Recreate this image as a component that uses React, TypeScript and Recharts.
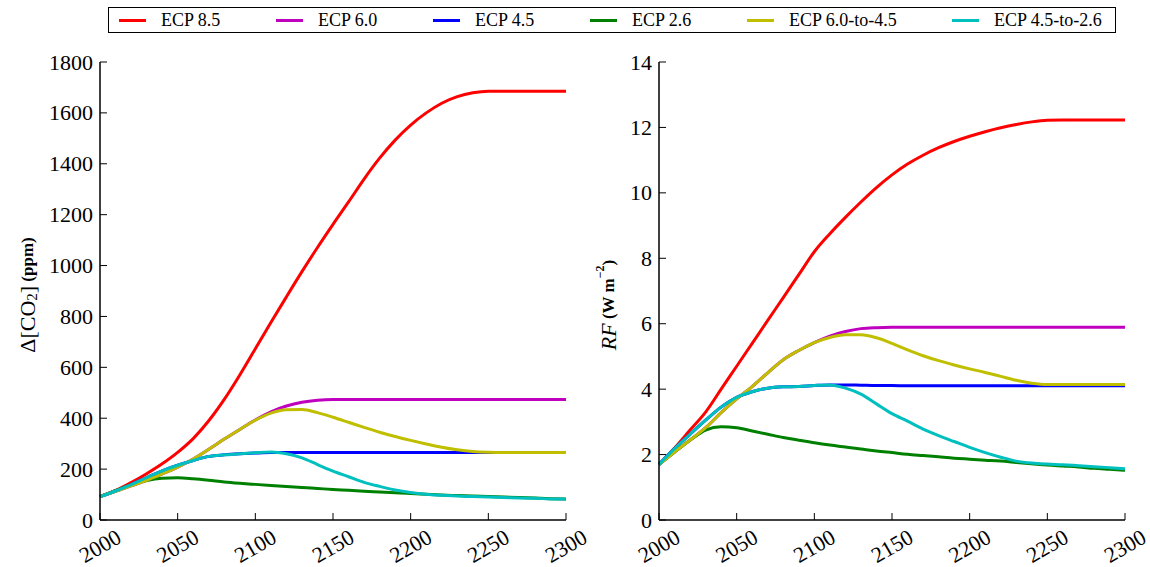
import { LineChart, Line, XAxis, YAxis } from 'recharts'

const years = [
  2000, 2010, 2020, 2030, 2040, 2050, 2060, 2070, 2080, 2090, 2100,
  2110, 2120, 2130, 2140, 2150, 2160, 2170, 2180, 2190, 2200,
  2210, 2220, 2230, 2240, 2250, 2260, 2270, 2280, 2290, 2300,
]

// Delta CO2 (ppm)
const co2Ecp85 = [
  92, 116, 147, 182, 221, 266, 320, 390, 474, 570, 673,
  776, 877, 976, 1071, 1162, 1250, 1340, 1422, 1493, 1552,
  1600, 1638, 1664, 1679, 1685, 1685, 1685, 1685, 1685, 1685,
]
const co2Ecp60 = [
  92, 113, 134, 156, 181, 208, 240, 278, 318, 356, 393,
  425, 448, 463, 471, 474, 474, 474, 474, 474, 474,
  474, 474, 474, 474, 474, 474, 474, 474, 474, 474,
]
const co2Ecp45 = [
  92, 114, 139, 167, 193, 215, 234, 250, 256, 260, 263,
  265, 265, 265, 265, 265, 265, 265, 265, 265, 265,
  265, 265, 265, 265, 265, 265, 265, 265, 265, 265,
]
const co2Ecp26 = [
  92, 115, 138, 155, 164, 166, 162, 156, 149, 144, 140,
  136, 132, 128, 124, 120, 117, 113, 110, 107, 104,
  101, 98, 96, 94, 92, 90, 88, 86, 84, 82,
]
const co2Ecp60to45 = [
  92, 113, 134, 156, 181, 208, 240, 278, 318, 356, 392,
  420, 433, 434, 422, 404, 384, 364, 345, 328, 313,
  299, 286, 276, 269, 266, 265, 265, 265, 265, 265,
]
const co2Ecp45to26 = [
  92, 114, 139, 167, 193, 215, 234, 250, 256, 260, 264,
  267, 260, 244, 218, 192, 170, 148, 132, 118, 108,
  101, 97, 94, 92, 90, 88, 86, 85, 83, 82,
]

// radiative forcing (W m-2)
const rfEcp85 = [
  1.7, 2.2, 2.75, 3.3, 4.0, 4.7, 5.4, 6.1, 6.8, 7.5, 8.2,
  8.75, 9.25, 9.72, 10.16, 10.55, 10.88, 11.15, 11.38, 11.57, 11.73,
  11.87, 11.99, 12.09, 12.17, 12.22, 12.23, 12.23, 12.23, 12.23, 12.23,
]
const rfEcp60 = [
  1.7, 2.08, 2.44, 2.82, 3.28, 3.7, 4.08, 4.5, 4.9, 5.18, 5.42,
  5.62, 5.76, 5.85, 5.88, 5.89, 5.89, 5.89, 5.89, 5.89, 5.89,
  5.89, 5.89, 5.89, 5.89, 5.89, 5.89, 5.89, 5.89, 5.89, 5.89,
]
const rfEcp45 = [
  1.7, 2.18, 2.62, 3.05, 3.45, 3.75, 3.92, 4.03, 4.07, 4.08, 4.11,
  4.13, 4.13, 4.12, 4.11, 4.11, 4.1, 4.1, 4.1, 4.1, 4.1,
  4.1, 4.1, 4.1, 4.1, 4.1, 4.1, 4.1, 4.1, 4.1, 4.1,
]
const rfEcp26 = [
  1.7, 2.08, 2.44, 2.75, 2.85, 2.82, 2.72, 2.62, 2.52, 2.44, 2.36,
  2.29, 2.23, 2.17, 2.11, 2.06, 2.01, 1.97, 1.93, 1.89, 1.86,
  1.83, 1.8, 1.76, 1.72, 1.68, 1.65, 1.62, 1.58, 1.55, 1.52,
]
const rfEcp60to45 = [
  1.7, 2.08, 2.44, 2.82, 3.28, 3.7, 4.08, 4.5, 4.9, 5.18, 5.42,
  5.58, 5.66, 5.66, 5.57, 5.4, 5.2, 5.02, 4.87, 4.74, 4.62,
  4.51, 4.39, 4.27, 4.18, 4.14, 4.14, 4.14, 4.14, 4.14, 4.14,
]
const rfEcp45to26 = [
  1.7, 2.18, 2.62, 3.05, 3.45, 3.75, 3.92, 4.03, 4.07, 4.08, 4.11,
  4.13, 4.03, 3.85, 3.55, 3.25, 3.02, 2.78, 2.58, 2.4, 2.22,
  2.06, 1.92, 1.8, 1.74, 1.71, 1.69, 1.66, 1.63, 1.6, 1.57,
]

const xTicks = [2000, 2050, 2100, 2150, 2200, 2250, 2300]
const co2Ticks = [0, 200, 400, 600, 800, 1000, 1200, 1400, 1600, 1800]
const rfTicks = [0, 2, 4, 6, 8, 10, 12, 14]

const series = [
  { key: 'e85', name: 'ECP 8.5', color: '#ff0000' },
  { key: 'e60', name: 'ECP 6.0', color: '#bf00bf' },
  { key: 'e45', name: 'ECP 4.5', color: '#0000ff' },
  { key: 'e26', name: 'ECP 2.6', color: '#008000' },
  { key: 'e6045', name: 'ECP 6.0-to-4.5', color: '#bfbf00' },
  { key: 'e4526', name: 'ECP 4.5-to-2.6', color: '#00bfbf' },
]

const co2Data = years.map((year, i) => ({
  year,
  e85: co2Ecp85[i],
  e60: co2Ecp60[i],
  e45: co2Ecp45[i],
  e26: co2Ecp26[i],
  e6045: co2Ecp60to45[i],
  e4526: co2Ecp45to26[i],
}))

const rfData = years.map((year, i) => ({
  year,
  e85: rfEcp85[i],
  e60: rfEcp60[i],
  e45: rfEcp45[i],
  e26: rfEcp26[i],
  e6045: rfEcp60to45[i],
  e4526: rfEcp45to26[i],
}))

const FONT = "'Liberation Serif', 'Times New Roman', Times, 'DejaVu Serif', serif"
const TICK_LEN = 7

// ticks point inward, like old matplotlib
function BottomTick(props: any) {
  const { x, y, payload } = props
  return (
    <g>
      <line x1={x} y1={y} x2={x} y2={y - TICK_LEN} stroke="#000" strokeWidth={1} />
      <text
        transform={`translate(${x},${y + 26}) rotate(-30)`}
        textAnchor="middle"
        dominantBaseline="central"
        style={{ fontFamily: FONT }}
        fontSize={22}
        fill="#000"
      >
        {payload.value}
      </text>
    </g>
  )
}

function TopTick(props: any) {
  const { x, y } = props
  return <line x1={x} y1={y} x2={x} y2={y + TICK_LEN} stroke="#000" strokeWidth={1} />
}

function LeftTick(props: any) {
  const { x, y, payload } = props
  return (
    <g>
      <line x1={x} y1={y} x2={x + TICK_LEN} y2={y} stroke="#000" strokeWidth={1} />
      <text
        x={x - 7}
        y={y}
        textAnchor="end"
        dominantBaseline="central"
        style={{ fontFamily: FONT }}
        fontSize={22}
        fill="#000"
      >
        {payload.value}
      </text>
    </g>
  )
}

function RightTick(props: any) {
  const { x, y } = props
  return <line x1={x} y1={y} x2={x - TICK_LEN} y2={y} stroke="#000" strokeWidth={1} />
}

function Co2Label(props: any) {
  const vb = props.viewBox
  const cx = vb.x - 13
  const cy = vb.y + vb.height / 2 + 4
  return (
    <text
      transform={`translate(${cx},${cy}) rotate(-90)`}
      textAnchor="middle"
      dominantBaseline="central"
      style={{ fontFamily: FONT }}
      fill="#000"
    >
      <tspan fontSize={22}>Δ[CO</tspan>
      <tspan fontSize={15} dy={5}>2</tspan>
      <tspan fontSize={22} dy={-5}>]</tspan>
      <tspan fontSize={17} fontWeight="bold"> (ppm)</tspan>
    </text>
  )
}

function RfLabel(props: any) {
  const vb = props.viewBox
  const cx = vb.x + 9
  const cy = vb.y + vb.height / 2 + 14
  return (
    <text
      transform={`translate(${cx},${cy}) rotate(-90)`}
      textAnchor="middle"
      dominantBaseline="central"
      style={{ fontFamily: FONT }}
      fill="#000"
    >
      <tspan fontSize={22} fontStyle="italic">RF</tspan>
      <tspan fontSize={17} fontWeight="bold"> (W m</tspan>
      <tspan fontSize={12} fontWeight="bold" dy={-8}>−2</tspan>
      <tspan fontSize={17} fontWeight="bold" dy={8}>)</tspan>
    </text>
  )
}

function Panel({ data, yMax, yTicks, label, width, margin }: any) {
  return (
    <LineChart width={width} height={567} data={data} margin={margin}>
      <XAxis
        dataKey="year"
        type="number"
        domain={[2000, 2300]}
        ticks={xTicks}
        interval={0}
        height={47}
        tickSize={0}
        tickMargin={0}
        tickLine={false}
        axisLine={{ stroke: '#000', strokeWidth: 1.5 }}
        tick={BottomTick}
      />
      <XAxis
        xAxisId="top"
        orientation="top"
        dataKey="year"
        type="number"
        domain={[2000, 2300]}
        ticks={xTicks}
        interval={0}
        height={0}
        tickSize={0}
        tickMargin={0}
        tickLine={false}
        axisLine={{ stroke: '#000', strokeWidth: 1.5 }}
        tick={TopTick}
      />
      <YAxis
        type="number"
        domain={[0, yMax]}
        ticks={yTicks}
        interval={0}
        width={60}
        tickSize={0}
        tickMargin={0}
        tickLine={false}
        axisLine={{ stroke: '#000', strokeWidth: 1.5 }}
        tick={LeftTick}
        label={{ content: label }}
      />
      <YAxis
        yAxisId="right"
        orientation="right"
        type="number"
        domain={[0, yMax]}
        ticks={yTicks}
        interval={0}
        width={0}
        tickSize={0}
        tickMargin={0}
        tickLine={false}
        axisLine={{ stroke: '#000', strokeWidth: 1.5 }}
        tick={RightTick}
      />
      {series.map((s) => (
        <Line
          key={s.key}
          type="monotone"
          dataKey={s.key}
          name={s.name}
          stroke={s.color}
          strokeWidth={3}
          dot={false}
          isAnimationActive={false}
        />
      ))}
    </LineChart>
  )
}

function TopLegend() {
  return (
    <div
      style={{
        position: 'absolute',
        left: 108,
        top: 7,
        width: 1008,
        height: 26,
        boxSizing: 'border-box',
        border: '1.5px solid #000',
        display: 'flex',
        flexWrap: 'nowrap',
        alignItems: 'center',
        paddingLeft: 10,
        fontFamily: FONT,
        fontSize: 18,
        color: '#000',
        background: '#fff',
        whiteSpace: 'nowrap',
        overflow: 'hidden',
      }}
    >
      {series.map((s) => (
        <div
          key={s.key}
          style={{
            display: 'flex',
            alignItems: 'center',
            flexShrink: 0,
            width: s.name.length > 8 ? 205 : 157,
          }}
        >
          <div style={{ width: 27, height: 3, background: s.color, marginRight: 15 }} />
          <span>{s.name}</span>
        </div>
      ))}
    </div>
  )
}

export default function App() {
  return (
    <div
      style={{
        position: 'absolute',
        left: 0,
        top: 0,
        width: 1150,
        height: 567,
        background: '#fff',
        overflow: 'hidden',
      }}
    >
      <div style={{ position: 'absolute', left: 0, top: 0 }}>
        <Panel
          data={co2Data}
          yMax={1800}
          yTicks={co2Ticks}
          label={Co2Label}
          width={600}
          margin={{ top: 62, right: 34, bottom: 0, left: 40 }}
        />
      </div>
      <div style={{ position: 'absolute', left: 560, top: 0 }}>
        <Panel
          data={rfData}
          yMax={14}
          yTicks={rfTicks}
          label={RfLabel}
          width={590}
          margin={{ top: 62, right: 25, bottom: 0, left: 39 }}
        />
      </div>
      <TopLegend />
    </div>
  )
}
